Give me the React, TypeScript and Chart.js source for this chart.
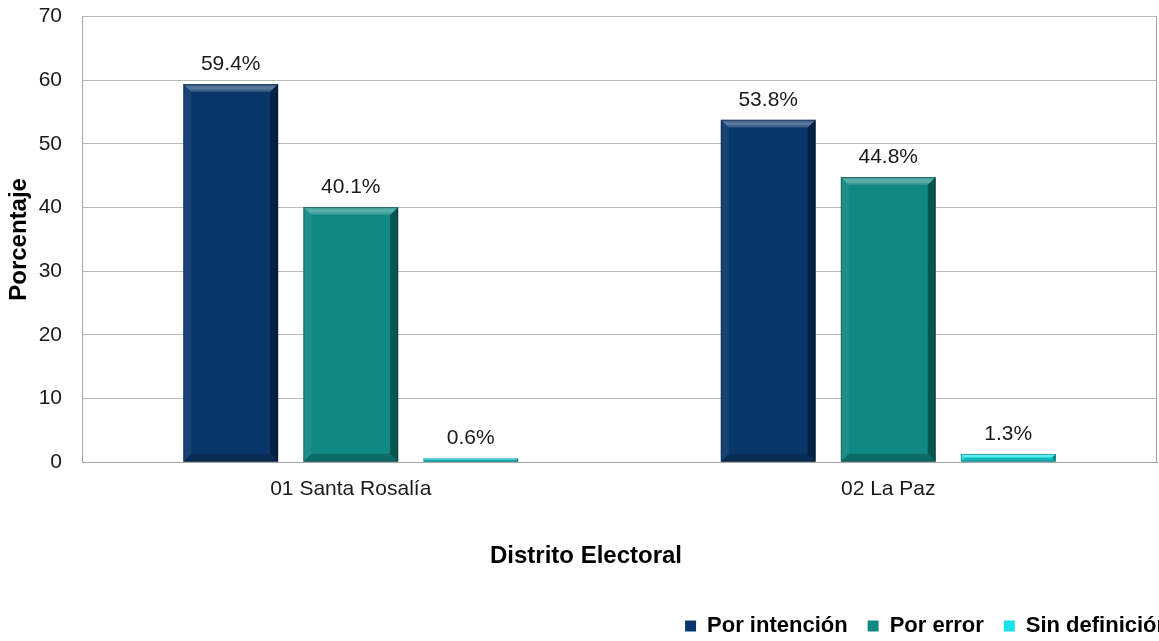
import React, { useEffect, useRef } from "react";
import { Chart, registerables } from "chart.js";

Chart.register(...registerables);

const categories = ["01 Santa Rosalía", "02 La Paz"];
const seriesNames = ["Por intención", "Por error", "Sin definición"];
const porIntencion = [59.4, 53.8];
const porError = [40.1, 44.8];
const sinDefinicion = [0.6, 1.3];
const seriesColors = ["#0a376b", "#0f8981", "#19e3e8"];
const yTicks = [0, 10, 20, 30, 40, 50, 60, 70];

const FONT = '"Liberation Sans", Arial, sans-serif';
const CANVAS_W = 1190;
const CANVAS_H = 641;

const bevelPlugin = {
  id: "bevel",
  afterDatasetsDraw(chart: any) {
    const ctx = chart.ctx;
    chart.data.datasets.forEach((ds: any, di: number) => {
      const meta = chart.getDatasetMeta(di);
      meta.data.forEach((bar: any) => {
        const p = bar.getProps(["x", "y", "width", "base"], true);
        const l = p.x - p.width / 2;
        const r = p.x + p.width / 2;
        const t = Math.min(p.y, p.base);
        const b = Math.max(p.y, p.base);
        const h = b - t;
        const s = Math.min(8, h / 2);
        ctx.save();
        const g = ctx.createLinearGradient(0, t, 0, t + s);
        g.addColorStop(0, "rgba(255,255,255,0.15)");
        g.addColorStop(0.5, "rgba(255,255,255,0.35)");
        g.addColorStop(1, "rgba(255,255,255,0.1)");
        ctx.fillStyle = g;
        ctx.beginPath();
        ctx.moveTo(l, t); ctx.lineTo(r, t); ctx.lineTo(r - s, t + s); ctx.lineTo(l + s, t + s); ctx.closePath(); ctx.fill();
        ctx.fillStyle = "rgba(255,255,255,0.06)";
        ctx.beginPath();
        ctx.moveTo(l, t); ctx.lineTo(l + s, t + s); ctx.lineTo(l + s, b - s); ctx.lineTo(l, b); ctx.closePath(); ctx.fill();
        ctx.fillStyle = "rgba(0,0,0,0.38)";
        ctx.beginPath();
        ctx.moveTo(r, t); ctx.lineTo(r, b); ctx.lineTo(r - s, b - s); ctx.lineTo(r - s, t + s); ctx.closePath(); ctx.fill();
        ctx.fillStyle = "rgba(0,0,0,0.2)";
        ctx.beginPath();
        ctx.moveTo(l, b); ctx.lineTo(r, b); ctx.lineTo(r - s, b - s); ctx.lineTo(l + s, b - s); ctx.closePath(); ctx.fill();
        ctx.strokeStyle = "rgba(0,0,0,0.3)";
        ctx.lineWidth = 1;
        ctx.strokeRect(l + 0.5, t + 0.5, p.width - 1, Math.max(h - 1, 0));
        ctx.restore();
      });
    });
  },
};

const labelPlugin = {
  id: "valueLabels",
  afterDatasetsDraw(chart: any) {
    const ctx = chart.ctx;
    ctx.save();
    ctx.font = `21px ${FONT}`;
    ctx.fillStyle = "#1a1a1a";
    ctx.textAlign = "center";
    ctx.textBaseline = "middle";
    chart.data.datasets.forEach((ds: any, di: number) => {
      const meta = chart.getDatasetMeta(di);
      meta.data.forEach((bar: any, i: number) => {
        const v = ds.data[i];
        ctx.fillText(`${v.toFixed(1)}%`, bar.x, bar.y - 20);
      });
    });
    ctx.restore();
  },
};

const framePlugin = {
  id: "frame",
  afterDraw(chart: any) {
    const { right, top, bottom } = chart.chartArea;
    const ctx = chart.ctx;
    ctx.save();
    ctx.strokeStyle = "#a6a6a6";
    ctx.lineWidth = 1;
    ctx.beginPath();
    ctx.moveTo(Math.round(right) - 0.5, top);
    ctx.lineTo(Math.round(right) - 0.5, bottom);
    ctx.stroke();
    ctx.restore();
  },
};

export default function App() {
  const ref = useRef<HTMLCanvasElement | null>(null);
  useEffect(() => {
    if (!ref.current) return;
    const chart = new Chart(ref.current, {
      type: "bar",
      data: {
        labels: categories,
        datasets: [porIntencion, porError, sinDefinicion].map((d, i) => ({
          label: seriesNames[i],
          data: d,
          backgroundColor: seriesColors[i],
          borderWidth: 0,
          categoryPercentage: 0.67,
          barPercentage: 0.79,
        })),
      },
      options: {
        responsive: false,
        animation: false,
        layout: { padding: { top: 0, left: -18, right: 0, bottom: -6 } },
        plugins: {
          tooltip: { enabled: false },
          title: {
            display: true,
            position: "bottom",
            weight: 500,
            text: "Distrito Electoral",
            color: "#000",
            font: { family: FONT, size: 24, weight: "bold" },
            padding: { top: 0, bottom: 24 },
          },
          legend: {
            position: "bottom",
            align: "end",
            weight: 1000,
            labels: {
              boxWidth: 11,
              boxHeight: 11,
              padding: 20,
              color: "#000",
              font: { family: FONT, size: 22, weight: "bold" },
            },
          },
        },
        scales: {
          x: {
            grid: { display: false, drawTicks: false },
            border: { display: true, color: "#a6a6a6" },
            ticks: { color: "#1a1a1a", padding: 14, font: { family: FONT, size: 21 } },
            afterFit: (s: any) => { s.height = 80; },
          },
          y: {
            min: 0,
            max: 70,
            afterBuildTicks: (s: any) => { s.ticks = yTicks.map((v) => ({ value: v })); },
            grid: { color: "#b8b8b8", drawTicks: true, tickLength: 16, tickColor: "rgba(0,0,0,0)" },
            border: { display: true, color: "#a6a6a6" },
            ticks: { color: "#1a1a1a", padding: 4, font: { family: FONT, size: 21 } },
            title: {
              display: true,
              text: "Porcentaje",
              color: "#000",
              font: { family: FONT, size: 24, weight: "bold" },
              padding: { top: 23, bottom: 0 },
            },
            afterFit: (s: any) => { s.width = 100; },
          },
          yR: {
            position: "right",
            grid: { display: false, drawOnChartArea: false, drawTicks: false },
            border: { display: false },
            ticks: { display: false },
            afterFit: (s: any) => { s.width = CANVAS_W - 1157; },
          },
        },
      },
      plugins: [bevelPlugin, labelPlugin, framePlugin],
    } as any);
    return () => chart.destroy();
  }, []);
  return (
    <div style={{ position: "fixed", left: 0, top: 0, width: 1159, height: CANVAS_H, overflow: "hidden", background: "#fff" }}>
      <canvas ref={ref} width={CANVAS_W} height={CANVAS_H} style={{ width: CANVAS_W, height: CANVAS_H, display: "block" }} />
    </div>
  );
}
